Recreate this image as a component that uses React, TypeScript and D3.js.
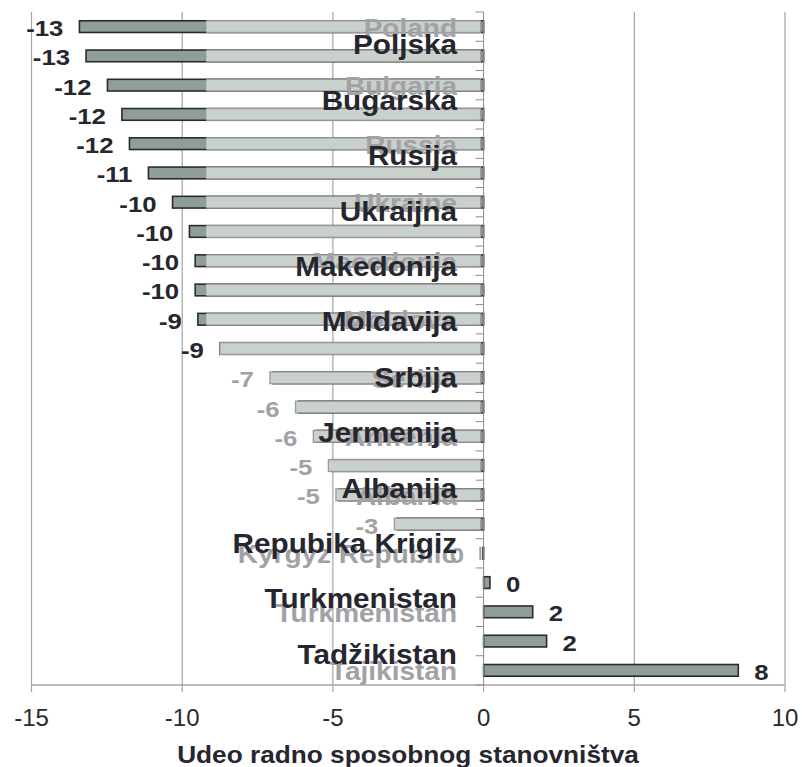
import React from "react";
import * as d3 from "d3";

// ---- data ----
const serbianLabels = [
  "Poljska", "Bugarska", "Rusija", "Ukraijna", "Makedonija", "Moldavija",
  "Srbija", "Jermenija", "Albanija", "Repubika Krigiz", "Turkmenistan", "Tadžikistan",
];
const englishLabels = [
  "Poland", "Bulgaria", "Russia", "Ukraine", "Macedonia", "Moldova",
  "Serbia", "Armenia", "Albania", "Kyrgyz Republic", "Turkmenistan", "Tajikistan",
];
const darkValues = [
  -13.41, -13.19, -12.48, -12.0, -11.75, -11.12, -10.32, -9.76, -9.57, -9.57, -9.48,
  -8.75, -6.99, -6.14, -5.55, -5.05, -4.8, -2.86, -0.02, 0.21, 1.63, 2.09, 8.45,
];
const lightValues: (number | null)[] = [
  -13.41, -13.19, -12.48, -12.0, -11.75, -11.12, -10.32, -9.76, -9.57, -9.57, -9.48,
  -8.65, -6.99, -6.14, -5.55, -5.05, -4.8, -2.86, -0.02, null, null, null, null,
];
const lightLabelRows = [12, 13, 14, 15, 16, 17, 18];
const xTicks = [-15, -10, -5, 0, 5, 10];
const xTitle = "Udeo radno sposobnog stanovništva";
const lightClipValue = -9.1;

// ---- layout ----
const W = 802, H = 767;
const left = 31.5, right = 785, top = 12, bottom = 685;
const DARK_TEXT = "#26262f";
const GRAY_TEXT = "#a2a2a6";
const FONT = "'Liberation Sans', Arial, sans-serif";

function StretchText({ x, y, sx, anchor, size, weight, fill, children }: any) {
  return (
    <text
      transform={`translate(${x},${y}) scale(${sx},1)`}
      textAnchor={anchor}
      fontSize={size}
      fontWeight={weight}
      fill={fill}
      fontFamily={FONT}
    >
      {children}
    </text>
  );
}

export default function App() {
  const x = d3.scaleLinear().domain([-15, 10]).range([left, right]);
  const xL = d3.scaleLinear().domain([-15, 10]).range([left - 3, right - 3]);
  const rows = d3.range(darkValues.length);
  const y = d3.scaleBand<number>().domain(rows).range([top, bottom]).paddingInner(0.6).paddingOuter(0.3);
  const step = y.step();
  const bw = y.bandwidth();
  const ySerb = d3.scalePoint<string>().domain(serbianLabels).range([54.3, 663.7]);
  const clipX = xL(lightClipValue);

  const boundaries = d3.range(rows.length + 1).map((k) => top + k * step);

  return (
    <svg width={W} height={H} style={{ position: "absolute", left: 0, top: 0, background: "#fff" }}>
      <defs>
        <clipPath id="lightClip">
          <rect x={clipX} y={0} width={W - clipX} height={H} />
        </clipPath>
      </defs>
      {/* gridlines */}
      {xTicks.filter((t) => t !== 0).map((t) => (
        <line key={t} x1={x(t)} x2={x(t)} y1={top} y2={bottom} stroke="#a4a4a4" strokeWidth={1.2} />
      ))}
      {/* dark bars */}
      {rows.map((i) => {
        const v = darkValues[i];
        const x0 = Math.min(x(0), x(v));
        return (
          <rect key={"d" + i} x={x0} y={y(i)} width={Math.abs(x(v) - x(0))} height={bw}
            fill="#8f9f95" stroke="#2a2a33" strokeWidth={1.6} />
        );
      })}
      {/* light bars */}
      <g clipPath="url(#lightClip)">
        {rows.map((i) => {
          const v = lightValues[i];
          if (v == null) return null;
          const x0 = Math.min(xL(0), xL(v));
          return (
            <rect key={"l" + i} x={x0} y={y(i)} width={Math.abs(xL(v) - xL(0))} height={bw}
              fill="#c9d1cc" stroke="#9a9a9a" strokeWidth={1.3} />
          );
        })}
      </g>
      {/* x axis */}
      <line x1={left} x2={right} y1={bottom} y2={bottom} stroke="#a4a4a4" strokeWidth={1.5} />
      {xTicks.map((t) => (
        <g key={"t" + t}>
          <line x1={x(t)} x2={x(t)} y1={bottom} y2={bottom + 7} stroke="#a4a4a4" strokeWidth={1.2} />
          <text x={x(t)} y={726} textAnchor="middle" fontSize={24} fontFamily={FONT} fill="#2a2a2a">
            {t}
          </text>
        </g>
      ))}
      {/* category axis at zero */}
      <line x1={x(0)} x2={x(0)} y1={top} y2={bottom} stroke="#8a8a8a" strokeWidth={1} />
      {boundaries.map((b, k) => (
        <line key={"b" + k} x1={x(0) - 8} x2={x(0)} y1={b} y2={b} stroke="#8a8a8a" strokeWidth={1} />
      ))}
      {/* English category labels (gray) */}
      {englishLabels.map((lab, i) => (
        <StretchText key={"e" + i} x={457} y={(y(i * 2) as number) + bw / 2 + 10} sx={1.12}
          anchor="end" size={25} weight="bold" fill={GRAY_TEXT}>
          {lab}
        </StretchText>
      ))}
      {/* gray value labels */}
      {lightLabelRows.map((i) => {
        const v = lightValues[i] as number;
        return (
          <StretchText key={"gl" + i} x={xL(v) - 16} y={(y(i) as number) + bw / 2 + 9.5} sx={1.12}
            anchor="end" size={23} weight="bold" fill={GRAY_TEXT}>
            {`${Math.round(v)}`}
          </StretchText>
        );
      })}
      {/* Serbian category labels (dark) */}
      {serbianLabels.map((lab) => (
        <StretchText key={"s" + lab} x={457} y={ySerb(lab)} sx={1.1}
          anchor="end" size={27} weight="bold" fill={DARK_TEXT}>
          {lab}
        </StretchText>
      ))}
      {/* dark value labels */}
      {rows.filter((i) => !lightLabelRows.includes(i)).map((i) => {
        const v = darkValues[i];
        const neg = v < 0;
        return (
          <StretchText key={"dl" + i} x={neg ? x(v) - 16 : x(v) + 16} y={(y(i) as number) + bw / 2 + 9.5}
            sx={1.12} anchor={neg ? "end" : "start"} size={23} weight="bold" fill={DARK_TEXT}>
            {`${Math.round(v)}`}
          </StretchText>
        );
      })}
      {/* axis title */}
      <StretchText x={408} y={763} sx={1.14} anchor="middle" size={23} weight="bold" fill={DARK_TEXT}>
        {xTitle}
      </StretchText>
    </svg>
  );
}
